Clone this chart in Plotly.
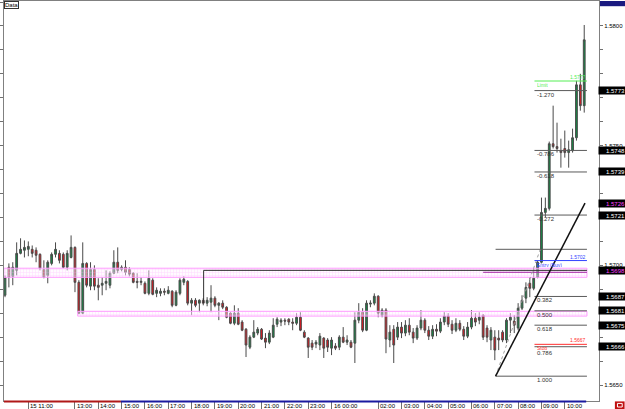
import plotly.graph_objects as go

# ---------------- data (10-minute candles, 15th 10:00 -> 16th 10:50) ----------------
opens = [1.56875, 1.56992, 1.56954, 1.56979, 1.57050, 1.57063, 1.57067, 1.57067, 1.57063, 1.57046,
         1.56983, 1.56958, 1.57008, 1.57046, 1.57050, 1.57046, 1.56992, 1.57033, 1.57075, 1.56929,
         1.56800, 1.57008, 1.56913, 1.56983, 1.56917, 1.56917, 1.56925, 1.56917, 1.56967, 1.57013,
         1.56983, 1.56992, 1.56983, 1.56967, 1.56933, 1.56929, 1.56925, 1.56883, 1.56938, 1.56883,
         1.56883, 1.56892, 1.56883, 1.56892, 1.56833, 1.56883, 1.56929, 1.56933, 1.56842, 1.56854,
         1.56842, 1.56854, 1.56842, 1.56846, 1.56863, 1.56833, 1.56842, 1.56825, 1.56800, 1.56758,
         1.56800, 1.56763, 1.56733, 1.56658, 1.56700, 1.56717, 1.56733, 1.56696, 1.56679, 1.56700,
         1.56754, 1.56763, 1.56771, 1.56775, 1.56763, 1.56758, 1.56783, 1.56721, 1.56696, 1.56675,
         1.56671, 1.56667, 1.56696, 1.56688, 1.56654, 1.56663, 1.56658, 1.56700, 1.56679, 1.56679,
         1.56675, 1.56771, 1.56804, 1.56729, 1.56838, 1.56842, 1.56871, 1.56792, 1.56813, 1.56688,
         1.56733, 1.56700, 1.56742, 1.56717, 1.56750, 1.56721, 1.56696, 1.56738, 1.56771, 1.56729,
         1.56704, 1.56733, 1.56725, 1.56763, 1.56788, 1.56754, 1.56729, 1.56758, 1.56733, 1.56704,
         1.56742, 1.56779, 1.56771, 1.56792, 1.56738, 1.56688, 1.56700, 1.56696, 1.56721, 1.56688,
         1.56771, 1.56767, 1.56738, 1.56821, 1.56863, 1.56925, 1.56904, 1.56950, 1.57013, 1.57221,
         1.57238, 1.57508, 1.57496, 1.57479, 1.57488, 1.57471, 1.57479, 1.57533, 1.57754, 1.57667]
highs = [1.56958, 1.57008, 1.57013, 1.57096, 1.57113, 1.57104, 1.57100, 1.57083, 1.57075, 1.57050,
         1.57021, 1.57021, 1.57054, 1.57096, 1.57063, 1.57054, 1.57063, 1.57125, 1.57079, 1.56938,
         1.57096, 1.57013, 1.57013, 1.57000, 1.56946, 1.56950, 1.56979, 1.56975, 1.57063, 1.57075,
         1.57000, 1.57021, 1.56992, 1.56971, 1.56967, 1.56950, 1.56933, 1.56979, 1.56946, 1.56908,
         1.56904, 1.56904, 1.56913, 1.56896, 1.56896, 1.56946, 1.56954, 1.56938, 1.56863, 1.56863,
         1.56858, 1.56863, 1.56867, 1.56917, 1.56871, 1.56846, 1.56854, 1.56829, 1.56804, 1.56833,
         1.56821, 1.56771, 1.56738, 1.56708, 1.56771, 1.56742, 1.56738, 1.56717, 1.56729, 1.56779,
         1.56783, 1.56779, 1.56779, 1.56779, 1.56779, 1.56800, 1.56804, 1.56729, 1.56700, 1.56688,
         1.56688, 1.56717, 1.56700, 1.56696, 1.56700, 1.56675, 1.56708, 1.56742, 1.56708, 1.56688,
         1.56804, 1.56842, 1.56821, 1.56854, 1.56854, 1.56883, 1.56875, 1.56821, 1.56821, 1.56750,
         1.56750, 1.56763, 1.56763, 1.56771, 1.56779, 1.56738, 1.56750, 1.56813, 1.56779, 1.56746,
         1.56750, 1.56754, 1.56779, 1.56804, 1.56800, 1.56771, 1.56779, 1.56771, 1.56746, 1.56763,
         1.56813, 1.56800, 1.56804, 1.56796, 1.56750, 1.56742, 1.56729, 1.56729, 1.56729, 1.56779,
         1.56800, 1.56792, 1.56842, 1.56875, 1.56929, 1.56950, 1.56988, 1.57021, 1.57283, 1.57283,
         1.57517, 1.57667, 1.57596, 1.57529, 1.57563, 1.57521, 1.57571, 1.57771, 1.57800, 1.58004]
lows = [1.56867, 1.56908, 1.56917, 1.56958, 1.57046, 1.57033, 1.57038, 1.57033, 1.57013, 1.56979,
        1.56946, 1.56925, 1.57000, 1.57033, 1.57008, 1.56988, 1.56979, 1.57029, 1.56888, 1.56796,
        1.56796, 1.56908, 1.56896, 1.56896, 1.56854, 1.56875, 1.56896, 1.56904, 1.56963, 1.56967,
        1.56975, 1.56958, 1.56954, 1.56925, 1.56904, 1.56917, 1.56879, 1.56875, 1.56875, 1.56867,
        1.56871, 1.56875, 1.56879, 1.56825, 1.56829, 1.56875, 1.56917, 1.56833, 1.56792, 1.56825,
        1.56804, 1.56833, 1.56829, 1.56804, 1.56825, 1.56771, 1.56817, 1.56779, 1.56754, 1.56750,
        1.56750, 1.56725, 1.56617, 1.56650, 1.56696, 1.56708, 1.56688, 1.56654, 1.56671, 1.56696,
        1.56742, 1.56746, 1.56750, 1.56750, 1.56729, 1.56750, 1.56725, 1.56696, 1.56613, 1.56646,
        1.56654, 1.56646, 1.56613, 1.56638, 1.56625, 1.56646, 1.56646, 1.56675, 1.56667, 1.56654,
        1.56592, 1.56758, 1.56721, 1.56725, 1.56825, 1.56833, 1.56783, 1.56783, 1.56633, 1.56658,
        1.56592, 1.56688, 1.56696, 1.56704, 1.56708, 1.56675, 1.56688, 1.56729, 1.56717, 1.56688,
        1.56692, 1.56704, 1.56717, 1.56750, 1.56742, 1.56713, 1.56721, 1.56725, 1.56688, 1.56696,
        1.56733, 1.56746, 1.56754, 1.56688, 1.56679, 1.56646, 1.56604, 1.56646, 1.56679, 1.56675,
        1.56717, 1.56717, 1.56729, 1.56813, 1.56842, 1.56867, 1.56896, 1.56946, 1.57008, 1.57200,
        1.57229, 1.57488, 1.57471, 1.57408, 1.57450, 1.57408, 1.57471, 1.57521, 1.57646, 1.57638]
closes = [1.56950, 1.56950, 1.56992, 1.57050, 1.57067, 1.57075, 1.57079, 1.57050, 1.57042, 1.56988,
          1.56950, 1.57013, 1.57046, 1.57067, 1.57021, 1.56992, 1.57050, 1.57075, 1.56929, 1.56800,
          1.57008, 1.56917, 1.56983, 1.56913, 1.56908, 1.56925, 1.56933, 1.56967, 1.57013, 1.56979,
          1.56992, 1.56971, 1.56963, 1.56929, 1.56929, 1.56933, 1.56883, 1.56946, 1.56879, 1.56896,
          1.56892, 1.56888, 1.56896, 1.56833, 1.56888, 1.56938, 1.56942, 1.56842, 1.56854, 1.56833,
          1.56854, 1.56842, 1.56854, 1.56863, 1.56833, 1.56842, 1.56825, 1.56783, 1.56758, 1.56800,
          1.56754, 1.56729, 1.56667, 1.56700, 1.56721, 1.56733, 1.56692, 1.56679, 1.56717, 1.56750,
          1.56775, 1.56771, 1.56767, 1.56763, 1.56758, 1.56783, 1.56729, 1.56700, 1.56658, 1.56658,
          1.56679, 1.56704, 1.56654, 1.56658, 1.56688, 1.56654, 1.56700, 1.56679, 1.56688, 1.56658,
          1.56771, 1.56804, 1.56729, 1.56842, 1.56842, 1.56871, 1.56800, 1.56813, 1.56692, 1.56721,
          1.56667, 1.56742, 1.56717, 1.56750, 1.56721, 1.56696, 1.56738, 1.56771, 1.56729, 1.56704,
          1.56733, 1.56725, 1.56763, 1.56788, 1.56754, 1.56729, 1.56758, 1.56733, 1.56704, 1.56742,
          1.56779, 1.56763, 1.56783, 1.56700, 1.56700, 1.56729, 1.56646, 1.56688, 1.56688, 1.56771,
          1.56783, 1.56750, 1.56821, 1.56854, 1.56908, 1.56904, 1.56946, 1.57013, 1.57221, 1.57238,
          1.57508, 1.57496, 1.57488, 1.57471, 1.57471, 1.57483, 1.57533, 1.57754, 1.57667, 1.57942]
bar_index = list(range(len(opens)))

# time axis labels (bar index of each labelled hour)
hour_index = [6, 18, 24, 30, 36, 42, 48, 54, 60, 66, 72, 78, 84, 96, 102, 108, 114, 120, 126, 132, 138, 144]
hour_labels = ["15 11:00", "13:00", "14:00", "15:00", "16:00", "17:00", "18:00", "19:00", "20:00",
               "21:00", "22:00", "23:00", "16 00:00", "02:00", "03:00", "04:00", "05:00", "06:00",
               "07:00", "08:00", "09:00", "10:00"]

# price axis
price_ticks = [1.5650, 1.5700, 1.5750, 1.5800]
price_tick_labels = ["1.5650", "1.5700", "1.5750", "1.5800"]

# Fibonacci levels
fib_ratios = [1.000, 0.786, 0.618, 0.500, 0.382, 0.000, -0.272, -0.618, -0.786, -1.270]
fib_prices = [1.56537, 1.5666, 1.5675, 1.5681, 1.5687, 1.57067, 1.5721, 1.5739, 1.5748, 1.5773]
fib_anchor_x = [126.2, 137.7]
fib_anchor_y = [1.56537, 1.57067]

# trend line
trend_x = [126.2, 149.2]
trend_y = [1.56537, 1.5726]

# boxed price labels on the right
box_prices = [1.5773, 1.5748, 1.5739, 1.5721, 1.5687, 1.5681, 1.5675, 1.5666]
magenta_box_prices = [1.5726, 1.5698]

# order lines
order_names = ["Limit", "Entry (Buy)", "Stop"]
order_prices = [1.5777, 1.5702, 1.5667]
order_colors = ["#55ee55", "#3344ff", "#ff3030"]

# support / resistance zones (low, high)
zone_upper = [1.56950, 1.56988]
zone_lower = [1.56788, 1.56808]
zone_upper_x = [-0.3, 149.7]
zone_lower_x = [18.7, 149.7]

# resistance polyline and magenta level
res_x = [51.1, 51.1, 149.7]
res_y = [1.56842, 1.56979, 1.56979]
magenta_level = 1.56971
magenta_x = [123.0, 149.7]

X_RANGE = [-0.256, 152.8]
Y_RANGE = [1.564333, 1.581042]
FONT = "Liberation Sans"

fig = go.Figure()

# zones (hatched pink)
for (lo, hi), (x0, x1) in [(zone_upper, zone_upper_x), (zone_lower, zone_lower_x)]:
    fig.add_trace(go.Scatter(
        x=[x0, x1, x1, x0, x0], y=[lo, lo, hi, hi, lo], mode="lines", fill="toself",
        line=dict(color="#ff9cff", width=1),
        fillcolor="rgba(255,235,255,0.5)",
        fillpattern=dict(shape="+", fgcolor="#ffa8ff", bgcolor="rgba(255,245,255,0.4)",
                         size=3, solidity=0.25),
        hoverinfo="skip", showlegend=False))

# resistance lines
fig.add_trace(go.Scatter(x=res_x, y=res_y, mode="lines", line=dict(color="#303030", width=1),
                         hoverinfo="skip", showlegend=False))
fig.add_trace(go.Scatter(x=magenta_x, y=[magenta_level, magenta_level], mode="lines",
                         line=dict(color="#a020a0", width=1), hoverinfo="skip", showlegend=False))

# fib diagonal (dotted)
fig.add_trace(go.Scatter(x=fib_anchor_x, y=fib_anchor_y, mode="lines",
                         line=dict(color="#a0a0a0", width=1, dash="dot"),
                         hoverinfo="skip", showlegend=False))

# candles
fig.add_trace(go.Candlestick(
    x=bar_index, open=opens, high=highs, low=lows, close=closes,
    increasing=dict(fillcolor="#148a45", line=dict(color="#4a4a4a", width=1)),
    decreasing=dict(fillcolor="#e8141c", line=dict(color="#4a4a4a", width=1)),
    whiskerwidth=0, hoverinfo="skip", showlegend=False))

# fib level lines + labels
fib_label_x = 136.6
fib_end_x = 149.7
for r, p in zip(fib_ratios, fib_prices):
    x0 = fib_anchor_x[0] if r in (0.0, 1.0) else fib_label_x - 0.4
    fig.add_trace(go.Scatter(x=[x0, fib_end_x], y=[p, p], mode="lines",
                             line=dict(color="#5a5a5a", width=1),
                             hoverinfo="skip", showlegend=False))
    if r != 0.0:
        fig.add_annotation(x=fib_label_x, y=p, xref="x", yref="y", text=f"{r:.3f}",
                           showarrow=False, xanchor="left", yanchor="top",
                           yshift=-2 if r == 0.786 else 0,
                           font=dict(size=6, color="#333333", family=FONT), borderpad=0)

# trend line
fig.add_trace(go.Scatter(x=trend_x, y=trend_y, mode="lines", line=dict(color="#111111", width=1.5),
                         hoverinfo="skip", showlegend=False))

# order lines (limit / entry / stop)
for name, p, c in zip(order_names, order_prices, order_colors):
    fig.add_trace(go.Scatter(x=[fib_label_x - 0.4, fib_end_x], y=[p, p], mode="lines",
                             line=dict(color=c, width=1), hoverinfo="skip", showlegend=False))
    fig.add_annotation(x=fib_end_x, y=p, xref="x", yref="y", text=f"{p:.4f}", showarrow=False,
                       xanchor="right", yanchor="bottom", font=dict(size=5, color=c, family=FONT),
                       borderpad=0)
    fig.add_annotation(x=fib_label_x, y=p, xref="x", yref="y", text=name, showarrow=False,
                       xanchor="left", yanchor="top", height=5,
                       font=dict(size=5, color=c, family=FONT), borderpad=0)

# boxed price labels
for p in box_prices:
    fig.add_annotation(x=1, y=p, xref="paper", yref="y", text=f"{p:.4f}", showarrow=False,
                       xanchor="left", xshift=-1, bgcolor="black", width=26, height=7,
                       align="right", valign="middle",
                       font=dict(size=6, color="white", family=FONT), borderpad=0)
for p in magenta_box_prices:
    fig.add_annotation(x=1, y=p, xref="paper", yref="y", text=f"{p:.4f}", showarrow=False,
                       xanchor="left", xshift=-1, bgcolor="black", width=26, height=7,
                       align="right", valign="middle",
                       font=dict(size=6, color="#ff40ff", family=FONT), borderpad=0)

# time labels (left-aligned right of each tick)
for i, lbl in zip(hour_index, hour_labels):
    fig.add_annotation(x=i, y=0, xref="x", yref="paper", text=lbl, showarrow=False,
                       xanchor="left", yanchor="top", xshift=1, yshift=-1,
                       font=dict(size=6, color="black", family=FONT), borderpad=0)

# "Data" tag
fig.add_annotation(x=0, y=1, xref="paper", yref="paper", text="Data", showarrow=False,
                   xanchor="left", yanchor="top", bgcolor="white", bordercolor="#333333",
                   borderwidth=1, borderpad=0, font=dict(size=6, color="black", family=FONT))

shapes = [
    # session strip under the chart
    dict(type="rect", xref="x", yref="paper", x0=X_RANGE[0], x1=29.8, y0=-0.004, y1=0.0015,
         fillcolor="#b01818", line=dict(width=0)),
    dict(type="rect", xref="x", yref="paper", x0=29.8, x1=149.5, y0=-0.004, y1=0.0015,
         fillcolor="#1a1aa0", line=dict(width=0)),
    # top-right navy tag
    dict(type="rect", xref="paper", yref="paper", x0=1.0017, x1=1.045, y0=0.987, y1=1.0,
         fillcolor="#1a1a80", line=dict(width=0)),
    # bottom-right red icon
    dict(type="rect", xref="paper", yref="paper", x0=1.0267, x1=1.043, y0=-0.021, y1=-0.001,
         fillcolor="#c01010", line=dict(width=0)),
    dict(type="rect", xref="paper", yref="paper", x0=1.031, x1=1.039, y0=-0.015, y1=-0.006,
         fillcolor="rgba(0,0,0,0)", line=dict(color="white", width=1)),
]

fig.update_layout(
    width=625, height=409, autosize=False,
    margin=dict(l=0, r=26, t=0, b=8, pad=0),
    paper_bgcolor="white", plot_bgcolor="white",
    showlegend=False, shapes=shapes, boxgap=0.35,
    font=dict(family=FONT, size=6, color="black"),
    xaxis=dict(range=X_RANGE, showgrid=False, zeroline=False, showline=True, linecolor="#808080",
               linewidth=1, mirror=True, tickmode="array", tickvals=hour_index,
               showticklabels=False, ticks="outside", ticklen=7, tickcolor="#707070",
               rangeslider=dict(visible=False), fixedrange=True),
    yaxis=dict(range=Y_RANGE, side="right", showgrid=False, zeroline=False, showline=True,
               linecolor="#808080", linewidth=1, mirror="ticks", tickmode="array",
               tickvals=price_ticks, ticktext=price_tick_labels, ticks="outside", ticklen=3,
               tickcolor="#707070", tickfont=dict(size=6, color="black", family=FONT),
               minor=dict(tickmode="linear", tick0=1.565, dtick=0.001, ticks="outside",
                          ticklen=3, tickcolor="#707070"),
               fixedrange=True),
)

fig.write_html("out.html")
